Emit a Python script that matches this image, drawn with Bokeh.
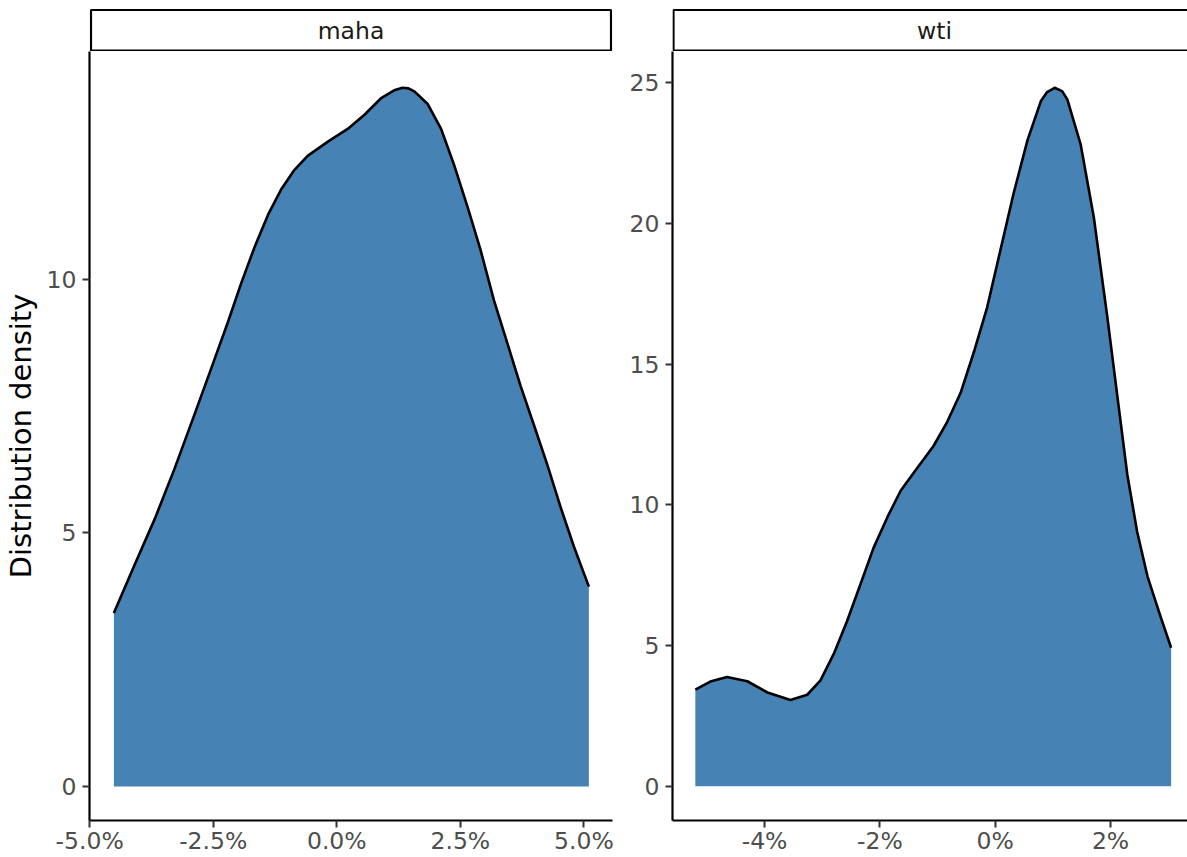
from bokeh.plotting import figure
from bokeh.layouts import row, column
from bokeh.models import Range1d, FixedTicker
from bokeh.core.properties import value
from bokeh.embed import file_html
from bokeh.resources import INLINE

# ---- data (x in percent, y = density) ----
panel_names = ["maha", "wti"]

maha_x = [-4.51, -4.09, -3.68, -3.28, -2.88, -2.54, -2.20, -1.93, -1.66, -1.39,
          -1.13, -0.86, -0.59, -0.18, 0.22, 0.56, 0.89, 1.16, 1.33, 1.45, 1.57,
          1.84, 2.11, 2.37, 2.65, 2.91, 3.18, 3.45, 3.72, 3.99, 4.26,
          4.53, 4.80, 5.10]
maha_y = [3.42, 4.37, 5.28, 6.27, 7.33, 8.24, 9.16, 9.93, 10.64, 11.27,
          11.76, 12.15, 12.43, 12.71, 12.96, 13.24, 13.56, 13.72, 13.77, 13.76, 13.70,
          13.45, 12.96, 12.26, 11.41, 10.57, 9.58, 8.74, 7.89, 7.12, 6.34,
          5.50, 4.72, 3.94]

wti_x = [-5.20, -4.94, -4.65, -4.30, -3.95, -3.55, -3.26, -3.03, -2.80, -2.57,
         -2.34, -2.11, -1.87, -1.64, -1.41, -1.07, -0.83, -0.60, -0.37, -0.14,
         0.09, 0.32, 0.56, 0.79, 0.90, 1.03, 1.16, 1.25, 1.48, 1.71, 1.94, 2.12,
         2.29, 2.46, 2.64, 2.87, 3.05]
wti_y = [3.43, 3.72, 3.88, 3.73, 3.33, 3.06, 3.25, 3.76, 4.70, 5.86,
         7.16, 8.47, 9.56, 10.50, 11.15, 12.09, 12.96, 13.98, 15.43, 17.02,
         19.05, 21.08, 22.96, 24.34, 24.67, 24.82, 24.70, 24.41, 22.82, 20.21, 16.73, 13.83,
         11.08, 9.05, 7.46, 6.01, 4.92]

maha_xticks = [-5.0, -2.5, 0.0, 2.5, 5.0]
maha_xlabels = ["-5.0%", "-2.5%", "0.0%", "2.5%", "5.0%"]
wti_xticks = [-4, -2, 0, 2]
wti_xlabels = ["-4%", "-2%", "0%", "2%"]
maha_yticks = [0, 5, 10]
wti_yticks = [0, 5, 10, 15, 20, 25]

y_title = "Distribution density"

FILL = "#4682B4"
FONT = "DejaVu Sans"


def style_axes(p, xticks, xlabels, yticks):
    p.xaxis.ticker = FixedTicker(ticks=xticks)
    p.xaxis.major_label_overrides = {t: l for t, l in zip(xticks, xlabels)}
    p.yaxis.ticker = FixedTicker(ticks=yticks)
    for ax in list(p.xaxis) + list(p.yaxis):
        ax.axis_line_color = "black"
        ax.axis_line_width = 2.2
        ax.major_tick_line_color = "#333333"
        ax.major_tick_line_width = 2
        ax.major_tick_out = 7
        ax.major_tick_in = 0
        ax.minor_tick_line_color = None
        ax.major_label_text_font = FONT
        ax.major_label_text_font_size = "23.5px"
        ax.major_label_text_color = "#4D4D4D"
        ax.axis_label_text_font = FONT
        ax.axis_label_text_font_size = "29px"
        ax.axis_label_text_font_style = "normal"
        ax.axis_label_text_color = "black"
        ax.axis_label_standoff = 6
    p.xaxis.major_label_standoff = -1
    p.yaxis.major_label_standoff = 6
    p.grid.visible = False
    p.outline_line_color = None
    p.background_fill_color = "white"
    p.border_fill_color = "white"


def make_panel(xs, ys, xr, yr, width, mbl, mbr, xticks, xlabels, yticks, ylabel=None):
    p = figure(width=width, height=806, x_range=Range1d(*xr), y_range=Range1d(*yr),
               output_backend="svg", toolbar_location=None,
               min_border_left=mbl, min_border_right=mbr,
               min_border_top=0, min_border_bottom=37)
    p.varea(x=xs, y1=0, y2=ys, fill_color=FILL)
    p.line(xs, ys, line_color="black", line_width=2.6, line_join="round")
    style_axes(p, xticks, xlabels, yticks)
    if ylabel:
        p.yaxis.axis_label = ylabel
    return p


def make_strip(label, width, mbl, mbr, frame_w, box_l, box_r):
    s = figure(width=width, height=51, x_range=Range1d(0, frame_w), y_range=Range1d(0, 51),
               output_backend="svg", toolbar_location=None,
               min_border_left=mbl, min_border_right=mbr,
               min_border_top=0, min_border_bottom=0)
    s.axis.visible = False
    s.grid.visible = False
    s.outline_line_color = None
    s.background_fill_color = "white"
    s.border_fill_color = "white"
    s.quad(left=[box_l], right=[box_r], bottom=[1.0], top=[41.5],
           fill_color="white", line_color="black", line_width=2.2)
    s.text(x=[(box_l + box_r) / 2], y=[21.0], text=[label],
           text_font=value(FONT), text_font_size="23.5px",
           text_align="center", text_baseline="middle", text_color="#1A1A1A")
    return s


p1 = make_panel(maha_x, maha_y, (-5.003, 5.578), (-0.670, 14.486), 622, 88, 10,
                maha_xticks, maha_xlabels, maha_yticks, y_title)
p2 = make_panel(wti_x, wti_y, (-5.596, 3.334), (-1.219, 26.11), 565, 50, 0,
                wti_xticks, wti_xlabels, wti_yticks)

s1 = make_strip(panel_names[0], 622, 88, 10, 524, 1.5, 522.5)
s2 = make_strip(panel_names[1], 565, 50, 0, 515, 1.0, 523.0)

layout = row(column(s1, p1), column(s2, p2))

open("out.html", "w").write(file_html(layout, INLINE))
